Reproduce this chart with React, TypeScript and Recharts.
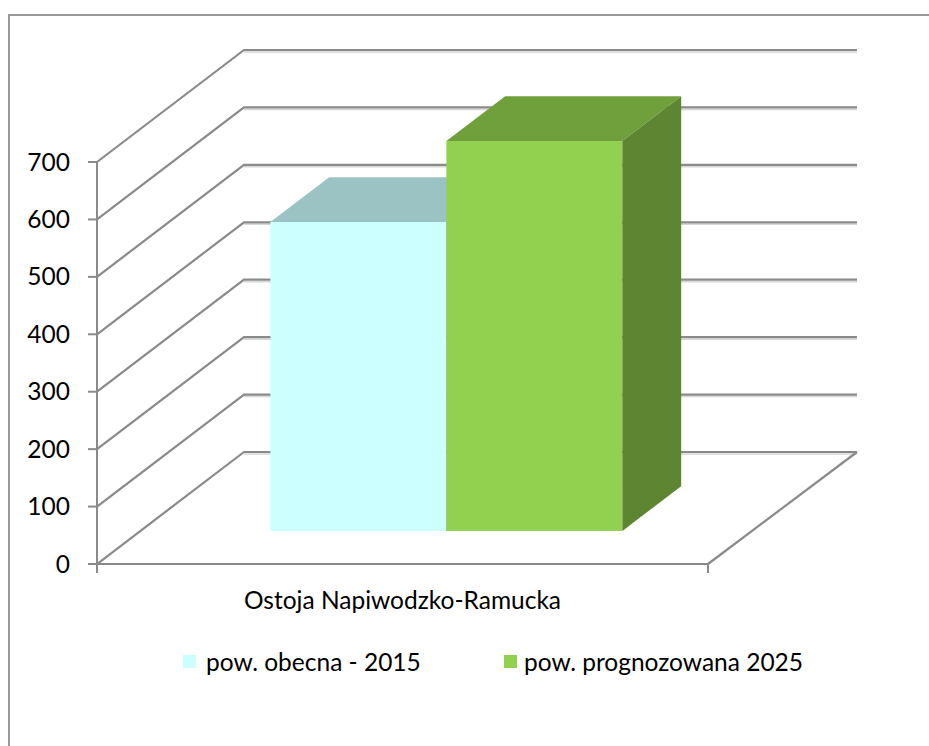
import React from 'react';
import { BarChart, Bar, XAxis, YAxis, CartesianGrid, Legend } from 'recharts';

const categories = ['Ostoja Napiwodzko-Ramucka'];
const values2015 = [538];
const values2025 = [679];
const yTicks = [0, 100, 200, 300, 400, 500, 600, 700];
const seriesNames = ['pow. obecna - 2015', 'pow. prognozowana 2025'];

const data = categories.map((c, i) => ({ name: c, s2015: values2015[i], s2025: values2025[i] }));

const DEPTH_X = 147;
const DEPTH_Y = 112;
const FRONT_F = 0.295;
const BAR_F = 0.4;
const GRID = '#8a8a8a';
const SHADOW = '#d6d6d6';
const FONT = 'Lato, sans-serif';
const FS = 24.5;

const palette = {
  s2015: { front: '#CCFFFF', top: '#9BC3C3', side: '#88AFAF' },
  s2025: { front: '#92D050', top: '#70A03C', side: '#5E8632' },
};

const makeBox = (key: 's2015' | 's2025') => (props: any) => {
  const { x, y, width, height } = props;
  const c = palette[key];
  const fx = x + DEPTH_X * FRONT_F;
  const fy = y - DEPTH_Y * FRONT_F;
  const dx = DEPTH_X * BAR_F;
  const dy = DEPTH_Y * BAR_F;
  return (
    <g>
      <rect x={fx} y={fy} width={width} height={height} fill={c.front} />
      <polygon points={`${fx},${fy} ${fx + width},${fy} ${fx + width + dx},${fy - dy} ${fx + dx},${fy - dy}`} fill={c.top} />
      <polygon points={`${fx + width},${fy} ${fx + width + dx},${fy - dy} ${fx + width + dx},${fy + height - dy} ${fx + width},${fy + height}`} fill={c.side} />
    </g>
  );
};

const gridLine = (props: any) => {
  const { x1, y1, x2, index } = props;
  const bx1 = x1 + DEPTH_X;
  const bx2 = x2 + DEPTH_X + 2;
  const by = y1 - DEPTH_Y;
  const bottom = props.y + props.height;
  const isFloor = Math.abs(y1 - bottom) < 1;
  return (
    <g key={`g-${index}`}>
      <line x1={bx1} y1={by + 2} x2={bx2} y2={by + 2} stroke={SHADOW} strokeWidth={1.5} />
      <polyline points={`${x1},${y1} ${bx1},${by} ${bx2},${by}`} fill="none" stroke={GRID} strokeWidth={2.2} />
      {isFloor && (
        <g>
          <line x1={x2} y1={y1} x2={bx2} y2={by} stroke={GRID} strokeWidth={2.2} />
          <line x1={x1} y1={y1} x2={x1} y2={y1 + 9} stroke={GRID} strokeWidth={2} />
          <line x1={x2} y1={y1} x2={x2} y2={y1 + 9} stroke={GRID} strokeWidth={2} />
        </g>
      )}
    </g>
  );
};

const YTick = (props: any) => {
  const { y, payload } = props;
  return (
    <text x={70} y={y} dy={8.5} textAnchor="end" fontFamily={FONT} fontSize={FS} fill="#000">
      {payload.value}
    </text>
  );
};

const XTick = (props: any) => {
  const { x, payload } = props;
  return (
    <text x={x} y={564} dy={45} textAnchor="middle" fontFamily={FONT} fontSize={FS} fill="#000">
      {payload.value}
    </text>
  );
};

const LegendContent = () => {
  const items = [
    { name: seriesNames[0], color: palette.s2015.front, sx: 183, tx: 206 },
    { name: seriesNames[1], color: palette.s2025.front, sx: 504, tx: 524 },
  ];
  return (
    <svg width={929} height={40} style={{ display: 'block' }}>
      {items.map((it) => (
        <g key={it.name}>
          <rect x={it.sx} y={10} width={13} height={13} fill={it.color} />
          <text x={it.tx} y={25.5} fontFamily={FONT} fontSize={FS} fill="#000">
            {it.name}
          </text>
        </g>
      ))}
    </svg>
  );
};

export default function App() {
  return (
    <div style={{ position: 'absolute', left: 0, top: 0, width: 929, height: 746, background: '#fff', overflow: 'hidden' }}>
      <div style={{ position: 'absolute', left: 8, top: 14, width: 940, height: 760, borderLeft: '2px solid #999', borderTop: '2px solid #999' }} />
      <div style={{ position: 'absolute', left: 0, top: 0 }}>
        <BarChart
          width={929}
          height={746}
          data={data}
          margin={{ top: 162, right: 221, bottom: 122, left: 0 }}
          barCategoryGap={130}
          barGap={0}
        >
          <CartesianGrid vertical={false} horizontal={gridLine} />
          <XAxis
            dataKey="name"
            height={60}
            tickLine={false}
            tickSize={0}
            tickMargin={0}
            tick={<XTick />}
            axisLine={{ stroke: GRID, strokeWidth: 2 }}
          />
          <YAxis
            width={97}
            domain={[0, 700]}
            ticks={yTicks}
            tickSize={9}
            tick={<YTick />}
            tickLine={{ stroke: GRID, strokeWidth: 2 }}
            axisLine={{ stroke: GRID, strokeWidth: 2 }}
          />
          <Legend
            layout="horizontal"
            verticalAlign="middle"
            align="center"
            wrapperStyle={{ top: 645, left: 0, width: 929 }}
            content={<LegendContent />}
          />
          <Bar dataKey="s2015" name={seriesNames[0]} fill={palette.s2015.front} isAnimationActive={false} shape={makeBox('s2015')} />
          <Bar dataKey="s2025" name={seriesNames[1]} fill={palette.s2025.front} isAnimationActive={false} shape={makeBox('s2025')} />
        </BarChart>
      </div>
    </div>
  );
}
